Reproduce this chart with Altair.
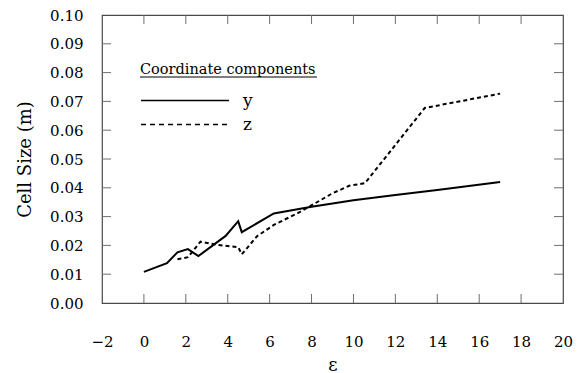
import altair as alt
import pandas as pd

# ---- data ----
y_eps = [0.0, 1.1, 1.6, 2.1, 2.6, 3.9, 4.5, 4.67, 6.2, 8.0, 10.0, 12.0, 14.0, 17.0]
y_val = [0.0108, 0.0138, 0.0176, 0.0187, 0.0163, 0.0233, 0.0284, 0.0246, 0.0311,
         0.0334, 0.0357, 0.0375, 0.0392, 0.0420]
z_eps = [1.6, 2.1, 2.7, 3.5, 4.5, 4.67, 5.4, 6.2, 7.45, 9.0, 9.8, 10.55, 13.4, 17.0]
z_val = [0.0152, 0.0159, 0.0213, 0.0202, 0.0194, 0.0169, 0.0232, 0.0271, 0.0316,
         0.0381, 0.0407, 0.0416, 0.0677, 0.0727]

x_ticks = [-2, 0, 2, 4, 6, 8, 10, 12, 14, 16, 18, 20]
y_ticks = [0.00, 0.01, 0.02, 0.03, 0.04, 0.05, 0.06, 0.07, 0.08, 0.09, 0.10]
series_names = ["y", "z"]
legend_title = "Coordinate components"

W, H = 461, 288
FONT = "DejaVu Serif"
TICK = 9
FRAME = "#4a4a4a"
TICKC = "#6e6e6e"

df_y = pd.DataFrame({"eps": y_eps, "size": y_val, "comp": "y"})
df_z = pd.DataFrame({"eps": z_eps, "size": z_val, "comp": "z"})

xscale = alt.Scale(domain=[-2, 20], nice=False, zero=False)
yscale = alt.Scale(domain=[0, 0.1], nice=False)

xaxis = alt.Axis(values=x_ticks, title="ε", labelPadding=31, titlePadding=7)
yaxis = alt.Axis(values=y_ticks, title="Cell Size (m)", format=".2f",
                 labelPadding=19, titlePadding=15)

line_y = alt.Chart(df_y).mark_line(color="black", strokeWidth=2).encode(
    x=alt.X("eps:Q", scale=xscale, axis=xaxis),
    y=alt.Y("size:Q", scale=yscale, axis=yaxis),
)
line_z = alt.Chart(df_z).mark_line(color="black", strokeWidth=2, strokeDash=[4, 3]).encode(
    x=alt.X("eps:Q", scale=xscale, axis=xaxis),
    y=alt.Y("size:Q", scale=yscale, axis=yaxis),
)

# inside ticks
xt = pd.DataFrame({"t": x_ticks[1:-1]})
yt = pd.DataFrame({"t": y_ticks[1:-1]})
tick_b = alt.Chart(xt).mark_rule(color=TICKC, strokeWidth=1).encode(
    x=alt.X("t:Q", scale=xscale, axis=xaxis), y=alt.value(H), y2=alt.value(H - TICK))
tick_t = alt.Chart(xt).mark_rule(color=TICKC, strokeWidth=1).encode(
    x=alt.X("t:Q", scale=xscale, axis=xaxis), y=alt.value(0), y2=alt.value(TICK))
tick_l = alt.Chart(yt).mark_rule(color=TICKC, strokeWidth=1).encode(
    y=alt.Y("t:Q", scale=yscale, axis=yaxis), x=alt.value(0), x2=alt.value(TICK))
tick_r = alt.Chart(yt).mark_rule(color=TICKC, strokeWidth=1).encode(
    y=alt.Y("t:Q", scale=yscale, axis=yaxis), x=alt.value(W - TICK), x2=alt.value(W))

# legend (drawn by hand)
LX0, LX1 = 39, 127
leg_title = alt.Chart(pd.DataFrame({"t": [legend_title]})).mark_text(
    font=FONT, fontSize=14.5, align="left", baseline="alphabetic", color="black"
).encode(text="t:N", x=alt.value(38), y=alt.value(58.5))
underline = alt.Chart(pd.DataFrame({"a": [0]})).mark_rule(color="black", strokeWidth=1).encode(
    x=alt.value(38), x2=alt.value(215), y=alt.value(62))
leg_solid = alt.Chart(pd.DataFrame({"a": [0]})).mark_rule(color="black", strokeWidth=1.5).encode(
    x=alt.value(LX0), x2=alt.value(LX1), y=alt.value(85.5))
leg_dash = alt.Chart(pd.DataFrame({"a": [0]})).mark_rule(
    color="black", strokeWidth=1.5, strokeDash=[5, 4]).encode(
    x=alt.value(LX0), x2=alt.value(LX1), y=alt.value(109.5))
leg_y = alt.Chart(pd.DataFrame({"t": [series_names[0]]})).mark_text(
    font=FONT, fontSize=17, align="left", baseline="alphabetic", color="black"
).encode(text="t:N", x=alt.value(141), y=alt.value(90.5))
leg_z = alt.Chart(pd.DataFrame({"t": [series_names[1]]})).mark_text(
    font=FONT, fontSize=17, align="left", baseline="alphabetic", color="black"
).encode(text="t:N", x=alt.value(141), y=alt.value(114.5))

chart = alt.layer(
    line_y, line_z, tick_b, tick_t, tick_l, tick_r,
    leg_title, underline, leg_solid, leg_dash, leg_y, leg_z,
).properties(
    width=W, height=H,
    background="white",
    autosize=alt.AutoSizeParams(type="none"),
    padding={"left": 102, "top": 15, "right": 16, "bottom": 70},
).configure(
    font=FONT
).configure_view(
    stroke=FRAME, strokeWidth=1.2
).configure_axis(
    grid=False, domain=False, ticks=False, labelFont=FONT, labelFontSize=15,
    labelColor="black", titleFont=FONT, titleFontSize=18, titleFontWeight="normal",
    titleColor="black", labelFlush=False, labelOverlap=False
).configure_text(font=FONT)

chart.save("out.html", embed_options={"renderer": "svg", "actions": False})
